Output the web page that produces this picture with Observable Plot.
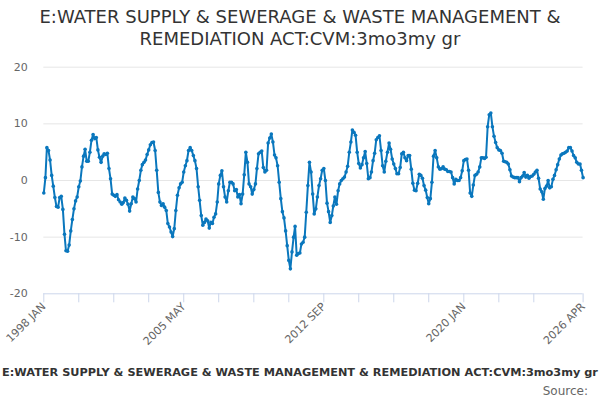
<!DOCTYPE html>
<html><head><meta charset="utf-8">
<script src="https://cdn.jsdelivr.net/npm/d3@7"></script>
<script src="https://cdn.jsdelivr.net/npm/@observablehq/plot@0.6"></script>
<style>
body{margin:0;width:600px;height:400px;overflow:hidden;font-family:"DejaVu Sans",sans-serif;background:#fff;position:relative}
#title{position:absolute;top:6px;left:0;width:600px;text-align:center;font-size:18px;line-height:22px;color:#333}
#chart{position:absolute;top:50px;left:0}
#caption{position:absolute;top:366px;left:50%;transform:translateX(-50%);white-space:nowrap;font-size:11.3px;font-weight:bold;color:#333}
#source{position:absolute;top:384px;right:12px;font-size:12px;color:#666}
</style></head><body>
<div id="title">E:WATER SUPPLY &amp; SEWERAGE &amp; WASTE MANAGEMENT &amp;<br>REMEDIATION ACT:CVM:3mo3my gr</div>
<div id="chart"></div>
<div id="caption">E:WATER SUPPLY &amp; SEWERAGE &amp; WASTE MANAGEMENT &amp; REMEDIATION ACT:CVM:3mo3my gr</div>
<div id="source">Source:</div>
<script>
const startYear = 1998;
const monthNames = ["JAN","FEB","MAR","APR","MAY","JUN","JUL","AUG","SEP","OCT","NOV","DEC"];
const values = [
-2.2, 0.5, 5.8, 5.3, 3.6, 0.9, -1.0, -3.0, -4.6, -4.7, -3.0,
-2.8, -5.1, -9.5, -12.4, -12.5, -11.4, -8.9, -6.9, -5.0, -3.6,
-2.9, -1.1, -0.1, 2.4, 4.3, 5.5, 3.4, 3.4, 5.0, 7.1,
8.1, 7.4, 7.6, 5.4, 4.1, 3.2, 4.3, 4.7, 4.6, 4.8,
2.1, 0.3, -2.4, -2.6, -2.8, -2.5, -3.4, -3.8, -4.2, -3.9,
-3.1, -3.5, -4.2, -5.4, -4.1, -2.9, -3.2, -3.8, -1.5, 0.0,
1.8, 2.8, 3.2, 3.6, 4.6, 5.4, 6.3, 6.7, 6.8, 5.3,
1.8, -2.1, -3.8, -4.4, -4.1, -4.7, -5.3, -7.6, -8.2, -9.1,
-9.9, -8.5, -5.3, -2.6, -1.3, -0.6, -0.3, 1.5, 2.6, 3.5,
5.3, 5.8, 5.3, 4.4, 3.5, 2.1, -1.1, -3.5, -6.2, -7.9,
-7.4, -6.8, -7.1, -8.4, -7.4, -7.6, -6.5, -5.9, -3.8, -0.6,
0.9, 1.7, -1.1, -2.9, -3.8, -1.8, -0.3, -0.3, -0.6, -1.8,
-1.6, -2.9, -2.5, -4.1, -2.4, 1.0, 5.0, 3.2, -0.6, -1.1,
-2.4, -1.6, -0.6, 2.1, 4.7, 5.0, 5.2, 2.3, 1.5, 1.8,
6.6, 7.5, 8.2, 6.8, 4.5, 4.0, 2.6, -0.3, -3.2, -5.5,
-6.6, -8.9, -11.5, -14.1, -15.6, -12.6, -10.0, -8.1, -13.2, -12.9,
-12.8, -11.2, -10.9, -10.0, -5.6, -0.9, 3.2, 1.5, -2.4, -5.9,
-5.0, -2.9, -0.9, 0.3, 1.8, 2.1, 0.0, -4.0, -5.5, -7.4,
-6.2, -4.5, -2.9, -4.2, -1.8, -0.6, 0.0, 0.3, 0.6, 1.5,
2.5, 5.0, 6.8, 8.9, 8.5, 8.0, 5.0, 3.0, 2.2, 2.8,
4.0, 5.1, 3.0, 0.3, 0.5, 1.5, 3.5, 4.8, 7.2, 7.6,
7.9, 5.3, 2.6, 1.5, 3.4, 5.0, 6.6, 5.5, 3.8, 2.9,
2.1, 1.2, 1.2, 2.3, 4.7, 5.0, 4.0, 3.5, 4.4, 4.4,
2.0, -0.5, -1.7, -1.8, -0.5, 1.1, 0.9, 0.4, -0.9, -1.7,
-3.0, -4.1, -3.2, -0.3, 4.3, 5.3, 4.0, 2.4, 2.0, 2.1,
2.4, 2.0, 1.9, 1.6, 1.6, 1.5, 0.5, -0.6, 0.2, 0.0,
0.0, 0.5, 1.7, 3.5, 3.7, 3.8, 1.8, -2.2, -2.8, -0.8,
0.9, 1.1, 1.5, 2.4, 4.0, 4.0, 3.9, 4.1, 9.5, 11.6,
11.9, 9.5, 7.8, 6.7, 5.8, 5.4, 5.3, 4.8, 3.4, 3.3,
3.2, 2.9, 1.9, 0.8, 0.6, 0.5, 0.5, 0.5, -0.2, 0.5,
0.8, 1.4, 0.6, 0.9, 0.4, 0.7, 0.8, 1.1, 1.5, 1.8,
0.4, -1.5, -2.0, -3.3, -1.4, -1.0, 0.0, -1.3, -1.1, 0.2,
0.9, 1.9, 2.8, 3.8, 4.5, 4.7, 4.8, 5.0, 5.2, 5.8,
5.8, 5.2, 4.4, 4.0, 3.2, 2.9, 2.9, 1.8, 0.5
];
const yTicks = [-20, -10, 0, 10, 20];
const xTickLabels = ["1998 JAN", "2005 MAY", "2012 SEP", "2020 JAN", "2026 APR"];

const data = values.map((v, i) => ({date: new Date(Date.UTC(startYear, i, 1)), value: v}));
const fmt = d => `${d.getUTCFullYear()} ${monthNames[d.getUTCMonth()]}`;
const last = data.length - 1;
const tickIdx = d3.range(0, last - 20, 22).concat([last]);
const tickDates = tickIdx.map(i => data[i].date);
const lineColor = "#0a77bd";

const chart = Plot.plot({
  width: 600,
  height: 300,
  marginTop: 16.7,
  marginBottom: 56.7,
  marginLeft: 43.3,
  marginRight: 17.4,
  style: {fontFamily: "DejaVu Sans, sans-serif", fontSize: "11px", color: "#666", background: "#fff"},
  x: {type: "utc", domain: [data[0].date, data[last].date]},
  y: {domain: [-20, 20]},
  marks: [
    Plot.ruleY(yTicks.filter(t => t !== -20), {stroke: "#e6e6e6", strokeWidth: 1}),
    Plot.ruleY([-20], {stroke: "#ccd6eb", strokeWidth: 1}),
    Plot.axisY({ticks: yTicks, tickSize: 0, tickPadding: 16, tickFormat: d => String(d), label: null, fill: "#666", fontSize: 11}),
    Plot.axisX({ticks: tickDates, tickSize: 9, stroke: "#ccd6eb", tickRotate: -45, tickPadding: 2,
      tickFormat: d => xTickLabels.includes(fmt(d)) ? fmt(d) : "", label: null, fill: "#666", fontSize: 11}),
    Plot.line(data, {x: "date", y: "value", stroke: lineColor, strokeWidth: 2}),
    Plot.dot(data, {x: "date", y: "value", r: 1.8, fill: lineColor, stroke: "none"})
  ]
});
document.getElementById("chart").appendChild(chart);
</script>
</body></html>
